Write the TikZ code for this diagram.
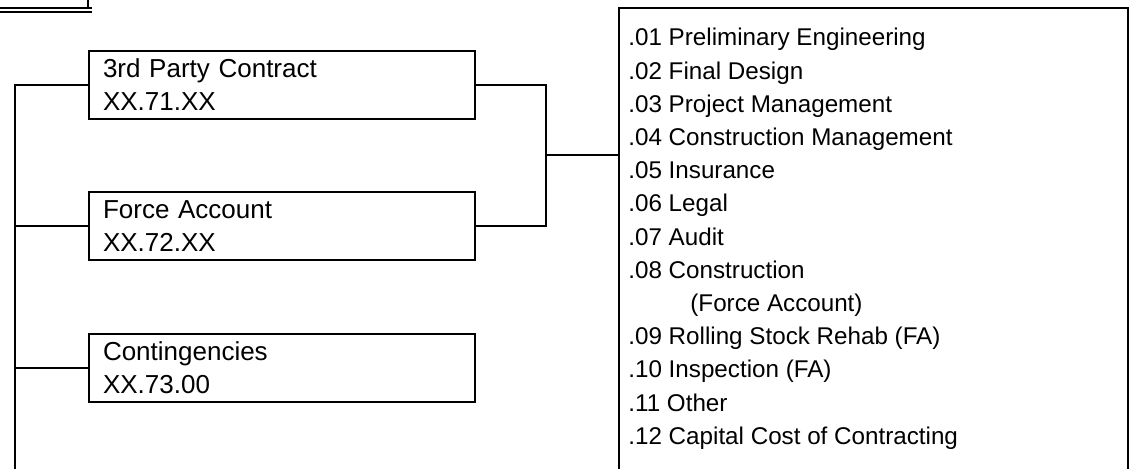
\documentclass[tikz,border=0pt]{standalone}
\usepackage{fontspec}
\setmainfont{Liberation Sans}
\usetikzlibrary{positioning}

\tikzset{
  acct/.style={draw, line width=1pt, anchor=north west, align=left,
    text width=179pt, inner xsep=7pt, minimum height=34pt,
    font=\fontsize{13pt}{16.5pt}\selectfont},
  listbox/.style={draw, line width=1pt, anchor=north west,
    minimum width=254.5pt, minimum height=260pt},
  listtext/.style={anchor=north west, align=left, inner sep=0pt,
    font=\fontsize{12.1pt}{16.6pt}\selectfont},
  wire/.style={line width=1pt}
}

\begin{document}
\begin{tikzpicture}[x=0.5pt, y=-0.5pt]
  \useasboundingbox (0,0) rectangle (1130,469);

  % corner of the parent box above
  \draw[wire] (88,0) -- (88,8);
  \draw[wire] (0,8) -- (92,8);
  \draw[wire] (0,12) -- (92,12);

  % the three cost groups
  \node[acct] (contract) at (88,50) {3rd Party Contract\\XX.71.XX};
  \node[acct] (force) at (88,191.5) {Force Account\\XX.72.XX};
  \node[acct] (conting) at (88,333) {Contingencies\\XX.73.00};

  % list of sub-elements
  \node[listbox] (costs) at (618,7) {};
  \node[listtext, xshift=5pt, yshift=-10.5pt] (items) at (costs.north west) {%
    .01 Preliminary Engineering\\
    .02 Final Design\\
    .03 Project Management\\
    .04 Construction Management\\
    .05 Insurance\\
    .06 Legal\\
    .07 Audit\\
    .08 Construction\\
    \hspace*{31pt}(Force Account)\\
    .09 Rolling Stock Rehab (FA)\\
    .10 Inspection (FA)\\
    .11 Other\\
    .12 Capital Cost of Contracting};

  % left bus
  \coordinate (busend) at (15,480);
  \draw[wire] (contract.west) -| (busend);
  \draw[wire] (force.west) -- (force.west -| busend);
  \draw[wire] (conting.west) -- (conting.west -| busend);

  % right side join
  \coordinate (join) at (546,155);
  \draw[wire] (contract.east) -| (join) |- (force.east);
  \draw[wire] (join) -- (join -| costs.west);
\end{tikzpicture}
\end{document}
